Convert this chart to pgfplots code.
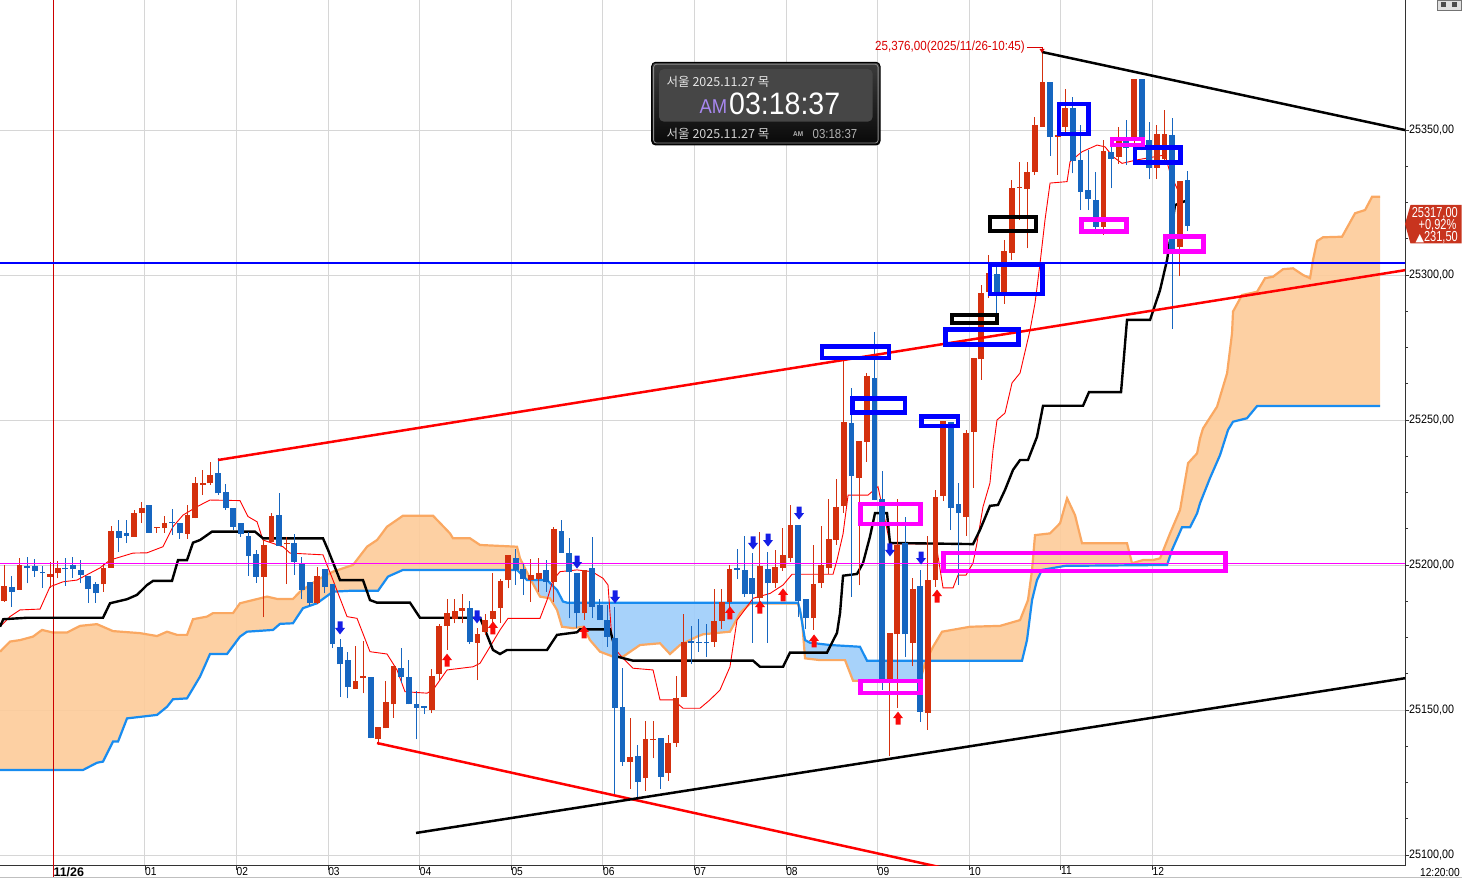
\documentclass[border=0pt]{standalone}
\usepackage{fontspec}
\setmainfont{Liberation Sans}
\newfontfamily\narrowfont[FakeStretch=0.88]{Liberation Sans}
\newfontfamily\pricefont[FakeStretch=0.76]{Liberation Sans}
\newfontfamily\clockfont[FakeStretch=0.92]{Liberation Sans}
\newfontfamily\symfont{DejaVu Sans}
\newfontfamily\krfont{Noto Sans CJK KR}
\usepackage{pgfplots}
\pgfplotsset{compat=1.18}
\usepackage{pgfplotstable}
\usepgfplotslibrary{fillbetween}

\definecolor{upred}{RGB}{212,48,14}
\definecolor{dnblue}{RGB}{22,102,192}
\definecolor{cloudor}{RGB}{253,204,155}
\definecolor{cloudorln}{RGB}{250,168,98}
\definecolor{cloudbl}{RGB}{160,206,250}
\definecolor{cloudblln}{RGB}{24,140,240}
\definecolor{gridgray}{RGB}{214,214,214}
\definecolor{magln}{RGB}{255,0,255}
\definecolor{hblue}{RGB}{0,0,255}
\definecolor{sigblue}{RGB}{20,30,230}
\definecolor{sigred}{RGB}{250,10,10}
\definecolor{pricebox}{RGB}{200,52,30}
\definecolor{clockpanel}{RGB}{70,70,70}
\definecolor{clockpurple}{RGB}{168,136,240}

\pgfdeclareplotmark{dnarrow}{%
	\pgfpathmoveto{\pgfpoint{-2.5pt}{6.5pt}}\pgfpathlineto{\pgfpoint{2.5pt}{6.5pt}}%
	\pgfpathlineto{\pgfpoint{2.5pt}{0pt}}\pgfpathlineto{\pgfpoint{5pt}{0pt}}%
	\pgfpathlineto{\pgfpoint{0pt}{-6.5pt}}\pgfpathlineto{\pgfpoint{-5pt}{0pt}}%
	\pgfpathlineto{\pgfpoint{-2.5pt}{0pt}}\pgfpathclose\pgfusepathqfill}
\pgfdeclareplotmark{uparrow}{%
	\pgfpathmoveto{\pgfpoint{-2.5pt}{-6.5pt}}\pgfpathlineto{\pgfpoint{2.5pt}{-6.5pt}}%
	\pgfpathlineto{\pgfpoint{2.5pt}{0pt}}\pgfpathlineto{\pgfpoint{5pt}{0pt}}%
	\pgfpathlineto{\pgfpoint{0pt}{6.5pt}}\pgfpathlineto{\pgfpoint{-5pt}{0pt}}%
	\pgfpathlineto{\pgfpoint{-2.5pt}{0pt}}\pgfpathclose\pgfusepathqfill}

% 5-minute candles, x = candle number
\pgfplotstableread{
i o h l c
0 25187.6 25200.0 25187.3 25192.9
2 25191.4 25202.3 25191.4 25200.0
6 25195.9 25200.9 25192.0 25196.9
7 25197.1 25201.4 25195.4 25199.1
13 25193.3 25200.8 25190.8 25199.1
14 25199.1 25213.4 25199.1 25211.7
17 25209.8 25219.0 25209.8 25218.0
18 25217.8 25221.8 25214.6 25219.8
20 25212.7 25213.2 25211.0 25213.1
21 25212.6 25216.9 25211.1 25214.6
24 25210.7 25220.7 25209.0 25217.2
25 25216.1 25230.5 25216.1 25228.4
26 25227.6 25232.8 25224.1 25228.2
27 25228.2 25235.6 25227.6 25231.0
34 25196.0 25208.6 25181.9 25206.9
35 25208.0 25217.8 25208.0 25216.9
37 25207.1 25209.8 25193.4 25207.5
41 25187.0 25199.4 25186.6 25196.2
46 25157.2 25172.2 25157.2 25160.0
47 25161.2 25173.8 25155.7 25161.7
49 25139.9 25144.0 25137.9 25144.0
50 25143.7 25160.1 25143.7 25152.9
51 25151.9 25165.3 25147.3 25165.3
56 25150.0 25164.0 25148.8 25161.7
57 25162.3 25179.6 25160.3 25179.1
58 25179.1 25188.3 25170.7 25183.6
59 25181.4 25188.2 25179.9 25184.1
60 25184.2 25189.9 25179.9 25185.3
62 25173.2 25178.2 25160.3 25176.2
63 25177.0 25183.0 25176.0 25181.0
64 25181.3 25197.3 25180.1 25184.1
65 25185.3 25195.1 25180.1 25194.5
66 25194.8 25203.4 25191.9 25203.4
69 25194.8 25201.9 25187.3 25196.5
70 25195.0 25202.3 25190.8 25197.1
72 25194.2 25213.0 25187.3 25212.3
76 25183.3 25198.3 25181.0 25198.3
82 25132.2 25147.1 25122.9 25133.7
84 25126.4 25146.2 25122.2 25139.9
85 25139.7 25146.2 25133.3 25140.1
87 25128.2 25141.4 25125.6 25138.5
88 25138.7 25161.7 25137.3 25154.0
89 25154.4 25183.0 25154.4 25173.3
93 25173.6 25191.6 25171.8 25180.8
94 25180.8 25191.6 25178.0 25187.3
95 25187.3 25200.0 25185.0 25198.6
99 25188.7 25211.5 25187.0 25199.6
101 25193.9 25205.2 25192.0 25199.2
102 25199.1 25212.6 25198.0 25203.4
103 25202.5 25220.7 25201.0 25213.8
106 25181.6 25206.9 25177.6 25193.4
107 25193.7 25213.4 25192.0 25200.0
108 25198.8 25222.6 25197.0 25209.0
109 25208.6 25229.6 25207.0 25220.1
110 25220.3 25270.7 25218.0 25249.4
112 25230.1 25242.7 25193.0 25242.7
113 25242.5 25266.3 25235.6 25265.3
116 25160.3 25176.6 25134.0 25176.6
117 25176.1 25222.6 25150.6 25206.9
119 25173.1 25195.4 25165.0 25191.6
121 25149.1 25210.0 25143.1 25194.8
122 25194.8 25225.9 25192.5 25223.6
123 25223.9 25249.8 25222.0 25249.8
126 25216.7 25246.5 25210.0 25245.6
127 25246.0 25271.3 25226.6 25271.3
128 25270.9 25296.5 25263.8 25293.7
129 25294.2 25306.9 25292.0 25300.6
131 25294.2 25312.0 25290.0 25308.4
132 25307.7 25332.8 25305.0 25330.1
133 25329.9 25338.8 25318.9 25330.3
134 25329.6 25338.8 25309.2 25335.4
135 25335.6 25354.4 25334.4 25351.7
136 25351.1 25377.0 25351.1 25366.7
138 25347.7 25354.6 25334.5 25348.3
139 25351.1 25364.0 25349.0 25357.5
144 25316.7 25346.5 25313.8 25342.7
146 25340.6 25350.9 25338.3 25346.3
148 25347.1 25367.5 25345.0 25367.5
151 25337.0 25351.7 25333.1 25348.6
152 25339.9 25356.9 25337.9 25348.6
154 25309.8 25332.4 25299.6 25332.4
}\upc

\pgfplotstableread{
i o h l c
1 25192.5 25196.2 25185.6 25190.8
3 25199.8 25202.6 25193.7 25199.1
4 25199.8 25202.0 25196.0 25198.0
5 25197.5 25199.7 25192.2 25197.1
8 25199.1 25202.3 25192.9 25198.5
9 25200.0 25202.6 25195.6 25198.5
10 25198.3 25201.7 25193.7 25196.5
11 25196.2 25196.2 25187.0 25191.6
12 25193.3 25194.3 25187.0 25190.2
15 25211.7 25215.5 25204.6 25209.4
16 25211.1 25215.5 25207.5 25210.1
19 25220.7 25220.7 25211.1 25211.1
22 25214.9 25219.3 25210.3 25214.4
23 25214.4 25214.4 25209.0 25210.9
28 25231.8 25236.8 25224.1 25224.7
29 25225.3 25227.8 25219.0 25219.5
30 25219.5 25219.5 25212.1 25213.2
31 25214.4 25214.4 25209.8 25210.6
32 25210.1 25211.5 25196.3 25203.2
33 25203.8 25205.2 25193.9 25196.0
36 25217.2 25224.7 25206.7 25206.7
38 25207.5 25210.7 25196.6 25201.2
39 25200.6 25202.9 25188.2 25191.4
40 25194.2 25194.2 25185.9 25187.0
42 25198.6 25198.6 25190.2 25192.3
43 25193.3 25193.3 25171.3 25172.6
44 25171.8 25174.4 25154.6 25165.7
45 25167.2 25170.1 25154.0 25158.0
48 25161.5 25161.5 25140.2 25140.4
52 25164.6 25171.3 25159.4 25161.5
53 25161.5 25167.2 25151.9 25151.9
54 25152.1 25156.7 25139.9 25150.8
55 25151.4 25151.4 25148.6 25150.8
61 25185.3 25187.7 25172.7 25173.3
67 25202.3 25205.4 25193.1 25198.3
68 25198.6 25200.6 25189.7 25195.2
71 25198.3 25201.7 25190.8 25194.3
73 25211.7 25215.5 25204.2 25204.2
74 25204.3 25209.4 25181.6 25197.7
75 25197.3 25197.3 25178.2 25183.3
77 25198.8 25209.8 25181.6 25185.6
78 25186.2 25188.2 25181.0 25181.0
79 25181.0 25186.2 25171.8 25175.3
80 25174.9 25185.6 25120.7 25150.6
81 25150.9 25164.4 25130.8 25132.2
83 25134.1 25137.9 25119.8 25125.3
86 25140.2 25140.2 25122.9 25127.0
90 25173.9 25178.9 25165.7 25173.2
91 25173.6 25181.3 25170.1 25173.2
92 25173.3 25179.7 25168.4 25173.0
96 25198.9 25205.5 25195.0 25198.3
97 25198.3 25210.0 25189.0 25189.9
98 25195.6 25204.2 25173.2 25189.9
100 25198.6 25204.6 25173.2 25193.7
104 25213.8 25213.8 25182.2 25187.7
105 25188.4 25188.4 25178.0 25181.6
111 25248.8 25260.9 25189.1 25230.8
114 25264.6 25280.5 25222.4 25222.4
115 25222.8 25232.4 25156.9 25159.2
118 25207.5 25216.4 25168.4 25176.1
120 25192.8 25198.3 25146.0 25149.4
124 25249.4 25249.4 25212.0 25219.8
125 25221.0 25228.2 25193.1 25217.8
130 25300.3 25302.9 25286.8 25294.2
137 25366.7 25366.7 25341.1 25347.7
140 25357.5 25361.3 25335.0 25339.4
141 25339.6 25351.7 25322.4 25328.7
142 25329.3 25343.1 25322.4 25326.2
143 25325.9 25335.4 25314.1 25316.7
145 25342.5 25344.8 25329.9 25340.1
147 25347.3 25353.4 25338.0 25343.7
149 25367.5 25367.5 25343.0 25346.5
150 25346.5 25352.9 25333.0 25337.0
153 25348.3 25354.0 25281.3 25308.9
155 25332.8 25335.9 25315.0 25317.0
}\dnc

\pgfplotstableread{
i p
-0.56 25178.7
0.75 25182.2
2.06 25184.5
4.68 25184.8
5.99 25192.5
7.69 25194.2
9.52 25194.8
12.54 25199.0
13.85 25201.7
16.86 25204.1
18.70 25204.2
20.79 25206.3
22.10 25213.2
23.41 25217.2
25.24 25220.1
26.95 25222.4
30.88 25222.2
31.93 25216.7
33.11 25214.9
33.89 25208.6
36.51 25206.3
37.43 25204.1
41.75 25203.5
43.06 25194.8
44.90 25182.2
46.21 25181.6
47.91 25170.1
50.14 25169.3
51.45 25163.8
52.49 25156.3
55.38 25155.8
56.16 25156.9
58.00 25163.8
61.40 25164.9
62.32 25166.1
63.63 25171.8
64.94 25177.6
65.99 25181.6
70.18 25181.6
71.10 25187.9
71.89 25194.8
72.80 25197.7
75.03 25198.3
76.99 25197.7
78.44 25195.4
79.09 25193.1
79.48 25178.7
79.75 25171.8
81.06 25167.8
82.37 25164.4
84.99 25163.8
85.90 25153.5
87.61 25153.5
88.92 25150.6
91.14 25150.6
92.45 25153.5
93.76 25156.9
95.07 25164.9
95.99 25181.0
97.30 25185.6
98.09 25188.5
100.32 25190.2
102.02 25193.1
103.20 25196.8
108.57 25196.8
109.09 25201.7
109.88 25210.7
110.54 25224.1
113.15 25224.1
114.46 25227.0
115.12 25218.7
116.03 25207.3
122.06 25207.3
122.98 25192.1
124.29 25192.1
124.94 25196.5
125.99 25196.5
126.91 25200.7
127.43 25207.6
128.22 25220.1
129.13 25228.3
129.53 25239.7
130.05 25250.0
131.10 25252.4
132.02 25262.8
133.07 25266.2
134.38 25281.0
135.03 25290.3
135.69 25304.1
136.34 25319.0
137.00 25331.7
139.23 25332.2
139.62 25339.1
141.19 25342.5
143.16 25344.8
144.20 25344.2
145.25 25340.8
146.43 25338.5
148.40 25339.7
152.07 25341.4
152.72 25335.2
154.42 25325.3
155.08 25325.3
}\tenkan

\pgfplotstableread{
i p
-0.56 25178.7
-0.13 25181.3
2.97 25181.8
12.93 25181.8
13.85 25186.8
16.08 25188.2
17.39 25189.7
18.70 25193.1
19.48 25194.5
21.97 25194.5
22.76 25201.7
23.94 25201.7
24.72 25207.7
25.64 25208.6
27.21 25211.5
32.84 25211.5
33.89 25209.2
41.75 25209.2
42.41 25205.2
43.98 25194.8
46.99 25194.8
47.91 25187.9
48.83 25187.0
53.15 25187.0
54.46 25181.8
62.32 25181.8
62.98 25177.6
64.02 25170.7
64.94 25169.3
65.86 25170.7
71.10 25170.7
72.41 25175.9
75.03 25176.8
75.42 25177.8
79.35 25177.8
80.27 25168.4
82.37 25167.0
98.09 25167.0
99.00 25164.9
102.02 25164.9
102.93 25169.8
107.78 25169.8
109.09 25176.6
109.49 25183.5
109.88 25196.3
111.71 25196.9
112.50 25200.7
113.41 25209.8
114.07 25217.9
115.64 25217.9
116.03 25207.6
126.91 25207.2
127.82 25212.1
129.13 25220.4
130.18 25220.7
131.10 25225.9
132.15 25232.8
133.07 25236.2
134.11 25236.2
135.29 25244.2
136.08 25254.9
141.32 25254.9
142.10 25259.6
146.30 25259.6
147.08 25284.5
150.10 25284.5
151.41 25294.8
152.33 25305.2
152.72 25312.1
153.37 25324.1
155.08 25325.9
}\kijun

\pgfplotstableread{
i p
-0.56 25170.1
0.75 25173.6
2.06 25174.1
3.76 25175.3
4.94 25177.6
6.38 25176.7
8.21 25176.7
9.92 25179.0
12.14 25179.6
14.24 25177.2
17.78 25176.5
20.01 25175.5
21.32 25177.0
22.63 25175.9
23.94 25175.9
24.72 25181.3
26.56 25182.2
27.34 25183.4
29.96 25183.4
30.88 25186.8
34.42 25189.1
35.73 25188.3
37.82 25188.3
38.74 25190.8
40.97 25194.8
43.06 25197.7
45.68 25200.0
47.52 25206.3
48.83 25208.6
50.14 25213.2
52.23 25217.0
56.16 25217.0
58.39 25210.9
58.78 25209.2
61.01 25209.2
62.32 25206.9
67.17 25206.3
67.56 25202.3
68.87 25195.4
70.18 25189.1
71.49 25188.5
72.41 25184.5
73.06 25178.7
74.51 25178.2
75.82 25178.7
76.73 25174.1
78.04 25170.1
79.75 25168.4
81.06 25168.4
83.28 25172.4
85.90 25173.0
87.21 25169.3
88.52 25172.4
90.75 25175.3
91.54 25176.1
95.07 25177.0
96.38 25183.4
97.69 25186.7
103.98 25186.7
104.51 25181.0
104.90 25167.8
106.87 25167.2
110.14 25167.2
111.19 25160.1
119.97 25160.1
120.62 25166.1
121.67 25171.8
122.85 25177.0
126.52 25178.7
130.45 25179.0
133.07 25181.0
134.11 25187.9
134.64 25198.3
135.03 25210.3
137.00 25210.9
138.31 25214.4
139.23 25223.0
140.27 25217.2
141.19 25207.5
147.08 25207.5
147.74 25200.6
149.18 25201.7
150.49 25201.7
151.41 25202.3
152.72 25210.9
154.03 25219.0
155.08 25235.1
156.26 25238.5
156.65 25243.7
157.04 25247.1
158.88 25254.6
160.19 25266.1
160.84 25279.9
160.97 25287.4
162.15 25293.1
164.12 25294.2
165.17 25298.9
166.21 25299.4
167.52 25302.0
168.83 25302.3
170.14 25300.0
171.06 25298.9
171.45 25305.2
171.98 25311.7
172.76 25313.0
175.25 25313.2
176.96 25321.3
178.27 25322.4
179.19 25327.0
180.23 25327.0
}\spanA

\pgfplotstableread{
i p
-0.56 25129.3
10.31 25129.3
12.14 25131.8
12.93 25132.2
14.24 25139.1
14.90 25139.1
16.08 25147.1
20.01 25148.3
21.32 25151.1
22.10 25153.7
23.94 25154.0
25.64 25161.5
26.95 25169.3
29.18 25169.3
30.88 25175.3
31.80 25177.0
35.20 25177.6
36.12 25179.7
37.82 25179.9
39.13 25185.1
40.97 25186.8
43.06 25190.8
45.29 25191.1
48.96 25191.1
50.27 25196.0
52.23 25198.3
67.17 25198.3
68.48 25194.8
71.10 25194.8
72.41 25191.4
73.19 25187.4
73.72 25187.0
103.98 25187.0
104.24 25184.5
104.90 25174.1
105.55 25173.2
108.18 25172.4
112.10 25171.8
113.02 25167.0
133.33 25167.0
133.98 25174.1
134.64 25187.9
135.29 25194.8
135.95 25198.3
138.96 25199.7
152.33 25200.0
152.98 25205.2
154.29 25213.0
155.34 25213.0
156.26 25217.8
156.65 25221.3
157.96 25230.0
159.27 25237.9
160.32 25246.6
160.97 25249.4
162.80 25250.6
164.12 25254.8
180.23 25254.8
}\spanB

\begin{document}
\begin{tikzpicture}
	\begin{axis}[
			at={(0pt,12pt)}, anchor=south west,
			scale only axis, width=1405pt, height=866pt,
			xmin=-0.563, xmax=183.5,
			ymin=25096.2, ymax=25394.83,
			axis x line*=bottom, axis y line*=right,
			axis line style={-, draw=black!80, line width=1pt},
			xtick={6.42,18.42,...,150.42},
			xticklabels={{\normalfont\bfseries\fontsize{12.5}{12.5}\selectfont 11/26},01,02,03,04,05,06,07,08,09,10,11,12},
			ytick={25100,25150,...,25350},
			yticklabels={{25100,00},{25150,00},{25200,00},{25250,00},{25300,00},{25350,00}},
			minor y tick num=3,
			tick align=outside,
			major tick length=4pt, minor tick length=3pt,
			tick style={black!80, line width=0.8pt},
			tick label style={font=\narrowfont\fontsize{12.2}{13}\selectfont},
			xticklabel style={anchor=north west, inner sep=0pt, yshift=3.2pt, font=\narrowfont\fontsize{11.6}{12}\selectfont},
			yticklabel style={anchor=west, inner sep=0pt},
			grid=major,
			major grid style={gridgray, line width=0.9pt},
		]

		% ichimoku cloud
		\addplot[draw=none, name path=spa, forget plot] table[x=i, y=p] {\spanA};
		\addplot[draw=none, name path=spb, forget plot] table[x=i, y=p] {\spanB};
		\addplot[fill=cloudor, fill opacity=0.92, draw=none] fill between[of=spa and spb, soft clip={domain=-1:69.0}];
		\addplot[fill=cloudbl, fill opacity=0.92, draw=none] fill between[of=spa and spb, soft clip={domain=69.0:120.79}];
		\addplot[fill=cloudor, fill opacity=0.92, draw=none] fill between[of=spa and spb, soft clip={domain=120.79:182}];
		\addplot[cloudorln, line width=2.2pt, mark=none] table[x=i, y=p] {\spanA};
		\addplot[cloudblln, line width=2.2pt, mark=none] table[x=i, y=p] {\spanB};

		% day separator 11/26
		\addplot[red!80!black, line width=1pt] coordinates {(6.42,25090) (6.42,25400)};

		% conversion and base lines
		\addplot[red, line width=0.9pt, mark=none] table[x=i, y=p] {\tenkan};
		\addplot[black, line width=2.4pt, mark=none] table[x=i, y=p] {\kijun};

		% candles: wicks then bodies
		\pgfplotsset{candle/.style 2 args={draw=none, mark=none,
			error bars/.cd, y dir=plus, y explicit, error mark=none,
			error bar style={line width=#1, draw=#2, solid}}}
		\addplot[candle={1pt}{upred}]
			table[x=i, y=l, y error plus expr=\thisrow{h}-\thisrow{l}] {\upc};
		\addplot[candle={1pt}{dnblue}]
			table[x=i, y=l, y error plus expr=\thisrow{h}-\thisrow{l}] {\dnc};
		\addplot[candle={5.8pt}{upred}]
			table[x=i, y=o, y error plus expr=\thisrow{c}-\thisrow{o}] {\upc};
		\addplot[candle={5.8pt}{dnblue}]
			table[x=i, y=c, y error plus expr=\thisrow{o}-\thisrow{c}] {\dnc};

		% horizontal levels
		\addplot[hblue, line width=1.8pt] coordinates {(-1,25304.1) (190,25304.1)};
		\addplot[magln, line width=1.8pt] coordinates {(-1,25200.5) (190,25200.5)};

		% trend lines
		\addplot[red, line width=2.5pt] coordinates {(28.00,25236.2) (183.6,25301.7)};
		\addplot[red, line width=2.5pt] coordinates {(48.83,25138.6) (125,25094.4)};
		\addplot[black, line width=2.5pt] coordinates {(53.94,25107.6) (183.6,25161.0)};
		\addplot[black, line width=2.5pt] coordinates {(135.95,25376.9) (184,25349.7)};

		% marked boxes
		\pgfplotsset{boxln/.style={line width=4.5pt, line cap=rect, line join=miter, mark=none}}
		\addplot[boxln, hblue] coordinates {(107.13,25271.38) (115.91,25271.38) (115.91,25275.35) (107.13,25275.35) (107.13,25271.38)};
		\addplot[boxln, hblue] coordinates {(111.12,25252.59) (118.00,25252.59) (118.00,25257.42) (111.12,25257.42) (111.12,25252.59)};
		\addplot[boxln, hblue] coordinates {(120.16,25247.93) (124.94,25247.93) (124.94,25251.21) (120.16,25251.21) (120.16,25247.93)};
		\addplot[boxln, hblue] coordinates {(123.31,25276.04) (132.87,25276.04) (132.87,25281.21) (123.31,25281.21) (123.31,25276.04)};
		\addplot[boxln, hblue] coordinates {(129.14,25293.45) (136.01,25293.45) (136.01,25303.45) (129.14,25303.45) (129.14,25293.45)};
		\addplot[boxln, hblue] coordinates {(138.18,25348.62) (142.04,25348.62) (142.04,25358.97) (138.18,25358.97) (138.18,25348.62)};
		\addplot[boxln, hblue] coordinates {(148.13,25338.80) (154.09,25338.80) (154.09,25343.97) (148.13,25343.97) (148.13,25338.80)};
		\addplot[boxln, black, line width=4pt] coordinates {(124.09,25283.28) (129.99,25283.28) (129.99,25286.21) (124.09,25286.21) (124.09,25283.28)};
		\addplot[boxln, black, line width=4pt] coordinates {(129.14,25315.17) (135.16,25315.17) (135.16,25320.00) (129.14,25320.00) (129.14,25315.17)};
		\addplot[boxln, magln] coordinates {(112.17,25214.14) (120.03,25214.14) (120.03,25221.04) (112.17,25221.04) (112.17,25214.14)};
		\addplot[boxln, magln] coordinates {(112.17,25155.86) (120.03,25155.86) (120.03,25160.00) (112.17,25160.00) (112.17,25155.86)};
		\addplot[boxln, magln] coordinates {(123.05,25197.93) (159.99,25197.93) (159.99,25204.14) (123.05,25204.14) (123.05,25197.93)};
		\addplot[boxln, magln] coordinates {(141.13,25315.00) (147.02,25315.00) (147.02,25319.14) (141.13,25319.14) (141.13,25315.00)};
		\addplot[boxln, magln, line width=4pt] coordinates {(145.12,25344.66) (149.12,25344.66) (149.12,25346.90) (145.12,25346.90) (145.12,25344.66)};
		\addplot[boxln, magln] coordinates {(152.13,25308.11) (157.11,25308.11) (157.11,25313.28) (152.13,25313.28) (152.13,25308.11)};

		% signal arrows
		\addplot[only marks, mark=dnarrow, color=sigblue, mark options={fill=sigblue}] coordinates {
			(43.98,25178.3) (61.93,25182.1) (75.03,25201.0) (80.01,25189.0) (98.09,25207.6)
			(100.05,25208.6) (104.12,25217.9) (116.03,25205.2) (120.10,25202.4)};
		\addplot[only marks, mark=uparrow, color=sigred, mark options={fill=sigred}] coordinates {
			(58.00,25167.2) (64.02,25178.3) (75.95,25176.9) (95.07,25183.5) (99.00,25185.5)
			(102.02,25189.7) (106.08,25173.8) (117.08,25147.2) (122.19,25189.3)};
	\end{axis}

	% overlays in screen pixels (y downwards)
	\begin{scope}[x=1pt, y=-1pt, shift={(0pt,878pt)}]
		\draw[red!80!black, line width=1pt] (53.3,866) -- (53.3,877);
		\node[anchor=base east, inner sep=0pt] at (1460,876.3) {\narrowfont\fontsize{11.6}{12}\selectfont 12:20:00};
		\draw[black!25, line width=0.8pt] (0,877.6) -- (1462,877.6);

		% high marker
		\node[anchor=base east, inner sep=0pt, text=red!85!black] at (1025,51) {\narrowfont\fontsize{13.2}{13.2}\selectfont 25,376,00(2025/11/26-10:45)};
		\draw[red!85!black, line width=0.8pt] (1027,47.5) -- (1042,47.5) -- (1042,50);
		\fill[red!85!black] (1039.5,49) -- (1044.5,49) -- (1042,53) -- cycle;

		% current price tag
		\fill[pricebox] (1405,224) -- (1410.5,205) -- (1461.5,205) -- (1461.5,243.5) -- (1410.5,243.5) -- cycle;
		\node[anchor=base east, inner sep=0pt, text=white] at (1458,217.3) {\pricefont\fontsize{14.5}{14.5}\selectfont 25317,00};
		\node[anchor=base east, inner sep=0pt, text=white] at (1456.5,229.5) {\pricefont\fontsize{14.5}{14.5}\selectfont +0,92\%};
		\node[anchor=base east, inner sep=0pt, text=white] at (1458,241.8) {{\symfont\fontsize{11}{11}\selectfont ▲}\pricefont\fontsize{14.5}{14.5}\selectfont 231,50};

		% corner icon
		\fill[black!12] (1437,0) rectangle (1461,10);
		\draw[black!55, line width=0.8pt] (1437,0) rectangle (1461,10);
		\fill[black!70] (1441,2.5) rectangle (1446,7.5);
		\fill[black!70] (1452,2.5) rectangle (1457,7.5);

		% clock panel
		\shadedraw[rounded corners=4pt, top color={rgb,255:red,60;green,60;blue,60}, bottom color={rgb,255:red,8;green,8;blue,8}, draw=black, line width=1pt] (651.7,62.3) rectangle (880,145);
		\draw[rounded corners=3pt, draw=black!45, line width=0.8pt] (653.6,64.2) rectangle (878.1,143.1);
		\fill[rounded corners=5pt, clockpanel] (659,69) rectangle (872.7,121.7);
		\node[anchor=base west, inner sep=0pt, text=black!10] at (666.5,86.3) {\krfont\fontsize{12.5}{12.5}\selectfont 서울 2025.11.27 목};
		\node[anchor=base west, inner sep=0pt, text=clockpurple] at (699.5,113.5) {\clockfont\fontsize{20}{20}\selectfont AM};
		\node[anchor=base west, inner sep=0pt, text=white] at (729,115) {\clockfont\fontsize{31}{31}\selectfont 03:18:37};
		\node[anchor=base west, inner sep=0pt, text=black!18] at (666.5,138.3) {\krfont\fontsize{12.5}{12.5}\selectfont 서울 2025.11.27 목};
		\node[anchor=base west, inner sep=0pt, text=black!30] at (793,137) {\clockfont\bfseries\fontsize{7}{7}\selectfont AM};
		\node[anchor=base west, inner sep=0pt, text=black!30] at (812.5,138.5) {\narrowfont\fontsize{13}{13}\selectfont 03:18:37};
	\end{scope}
	\pgfresetboundingbox
	\path[use as bounding box] (0,0) rectangle (1462pt,878pt);
\end{tikzpicture}
\end{document}
